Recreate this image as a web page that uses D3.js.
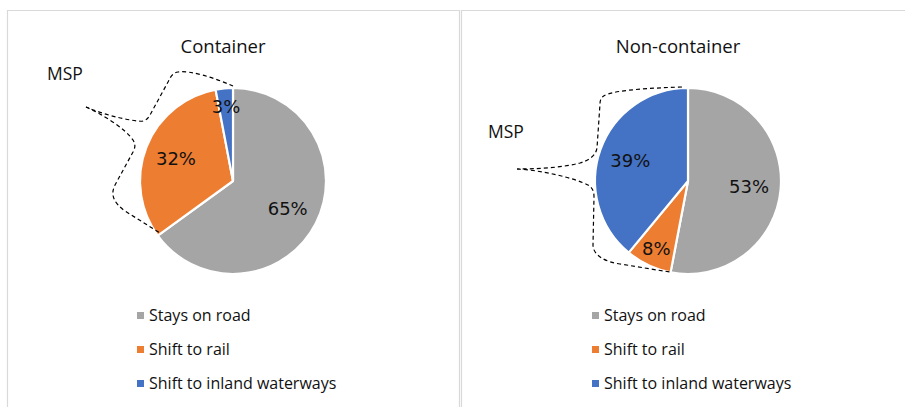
<!DOCTYPE html>
<html><head><meta charset="utf-8">
<script src="https://cdn.jsdelivr.net/npm/d3@7"></script>
<style>
html,body{margin:0;padding:0;background:#fff;}
svg{display:block;}
text{font-family:"Open Sans","Noto Sans",sans-serif;fill:#111;}
text.lbl{font-family:"DejaVu Sans",sans-serif;}
</style></head>
<body>
<svg id="chart" width="905" height="407"></svg>
<script>
// ---- data ----
const categories = ["Stays on road", "Shift to rail", "Shift to inland waterways"];
const chartTitles = ["Container", "Non-container"];
const containerValues = [65, 32, 3];
const nonContainerValues = [53, 8, 39];
const calloutLabel = "MSP";
const colors = ["#A5A5A5", "#ED7D31", "#4472C4"];

const svg = d3.select("#chart");

// panel frames
svg.append("path").attr("d","M7.5,410 V10.5 H459.5 V410")
  .attr("fill","none").attr("stroke","#d9d9d9").attr("stroke-width",1.2);
svg.append("path").attr("d","M461.5,410 V10.5 H905")
  .attr("fill","none").attr("stroke","#d9d9d9").attr("stroke-width",1.2);

const color = d3.scaleOrdinal().domain(categories).range(colors);

const panels = [
  {x0: 0, values: containerValues, title: chartTitles[0], cx: 233, msp: [47, 80],
   callout: [
     "M0,-95 C-18,-103 -43,-111 -55,-109 C-61,-108 -63,-103 -65,-99 L-83,-66 C-86,-61 -89,-59 -95,-60 C-113,-62 -133,-68 -147,-74",
     "M-147,-74 C-133,-68 -108,-53 -100,-41 C-97,-36 -98,-33 -100,-29 L-118,4 C-123,14 -119,22 -108,30 L-73,52"]},
  {x0: 455, values: nonContainerValues, title: chartTitles[1], cx: 688, msp: [488, 138],
   callout: [
     "M-6,-94 C-38,-93 -68,-91 -80,-87 C-87,-85 -88,-81 -88,-77 L-91,-33 C-92,-26 -98,-21 -108,-18 C-128,-13 -153,-12 -171,-12",
     "M-171,-12 C-148,-11 -113,-3 -100,4 C-95,7 -94,11 -94,16 L-95,64 C-95,74 -83,81 -68,83 C-48,86 -33,89 -17,91"]}
];

const cy = 181, r = 93;
const pie = d3.pie().sort(null).value(d => d.v);
const arc = d3.arc().innerRadius(0).outerRadius(r);

panels.forEach(p => {
  const g = svg.append("g");
  g.append("text").attr("x", p.cx - 10).attr("y", 53).attr("text-anchor","middle")
    .attr("font-size", 18.5).text(p.title);
  g.append("text").attr("x", p.msp[0]).attr("y", p.msp[1]).attr("font-size", 17.5).text(calloutLabel);

  const pg = g.append("g").attr("transform", `translate(${p.cx},${cy})`);
  const data = pie(p.values.map((v,i) => ({v, c: categories[i]})));
  pg.selectAll("path.slice").data(data).join("path").attr("class","slice")
    .attr("d", arc).attr("fill", d => color(d.data.c))
    .attr("stroke","#fff").attr("stroke-width",2.2).attr("stroke-linejoin","round");

  pg.selectAll("text.lbl").data(data).join("text").attr("class","lbl")
    .attr("transform", d => {
      const a = (d.startAngle + d.endAngle) / 2;
      const share = (d.endAngle - d.startAngle) / (2*Math.PI);
      const k = share < 0.1 ? 0.8 : 0.66;
      return `translate(${Math.sin(a)*r*k},${-Math.cos(a)*r*k})`;
    })
    .attr("text-anchor","middle").attr("dy","0.36em")
    .attr("font-size", 18)
    .text(d => d.data.v + "%");

  p.callout.forEach(dstr => {
    pg.append("path").attr("d", dstr).attr("fill","none")
      .attr("stroke","#000").attr("stroke-width",1.2).attr("stroke-dasharray","4,3");
  });

  const lg = g.append("g").attr("transform", `translate(${p.x0 + 137},0)`);
  categories.forEach((c,i) => {
    const y = 321 + i*34;
    lg.append("rect").attr("x",0).attr("y",y-9).attr("width",7).attr("height",7).attr("fill",color(c));
    lg.append("text").attr("x",12).attr("y",y).attr("font-size",16).text(c);
  });
});
</script>
</body></html>
